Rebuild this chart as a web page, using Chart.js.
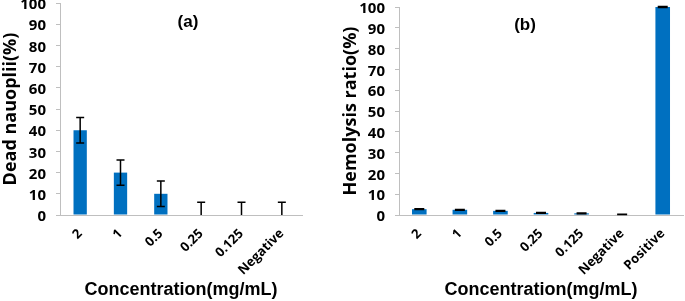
<!DOCTYPE html>
<html>
<head>
<meta charset="utf-8">
<script src="https://cdn.jsdelivr.net/npm/chart.js@4.4.0/dist/chart.umd.min.js"></script>
<style>
  html, body { margin: 0; padding: 0; background: #fff; }
  #wrap { position: relative; width: 685px; height: 301px; overflow: hidden; }
  .box { position: absolute; top: 0; height: 301px; }
  #boxA { left: 0; width: 340px; }
  #boxB { left: 340px; width: 345px; }
</style>
</head>
<body>
<div id="wrap">
  <div class="box" id="boxA"><canvas id="chartA"></canvas></div>
  <div class="box" id="boxB"><canvas id="chartB"></canvas></div>
</div>
<script>
// ---- Data ----
const categoriesA = ["2", "1", "0.5", "0.25", "0.125", "Negative"];
const valuesA = [40, 20, 10, 0, 0, 0];
const errorsA = [6, 6, 6, 6, 6, 6];

const categoriesB = ["2", "1", "0.5", "0.25", "0.125", "Negative", "Positive"];
const valuesB = [2.8, 2.5, 2.0, 1.0, 0.8, 0.3, 100];
const errorsB = [0.2, 0.2, 0.2, 0.15, 0.15, 0.1, 0.2];

const yTicks = [0, 10, 20, 30, 40, 50, 60, 70, 80, 90, 100];

const panelTitleA = "(a)";
const panelTitleB = "(b)";
const xTitle = "Concentration(mg/mL)";
const yTitleA = "Dead nauoplii(%)";
const yTitleB = "Hemolysis ratio(%)";

const BLUE = "#0070C0";
const AXIS = "#BFBFBF";
const TXT = "#000000";

const errorBarPlugin = {
  id: "errorBars",
  afterDatasetsDraw(chart, args, opts) {
    const ctx = chart.ctx;
    const meta = chart.getDatasetMeta(0);
    const ys = chart.scales.y;
    const vals = chart.data.datasets[0].data;
    const errs = opts.errors;
    ctx.save();
    ctx.strokeStyle = opts.color || "#000";
    ctx.lineWidth = opts.lineWidth || 1.5;
    meta.data.forEach((el, i) => {
      const v = vals[i], e = errs[i];
      const x = el.x;
      const yTop = ys.getPixelForValue(v + e);
      const lowVal = Math.max(0, v - e);
      const yBot = ys.getPixelForValue(lowVal);
      const hw = opts.capHalf;
      ctx.beginPath();
      ctx.moveTo(x, yTop); ctx.lineTo(x, yBot);
      ctx.moveTo(x - hw, yTop); ctx.lineTo(x + hw, yTop);
      if (v - e > 0) {
        ctx.moveTo(x - hw, yBot); ctx.lineTo(x + hw, yBot);
      }
      ctx.stroke();
    });
    ctx.restore();
  }
};

const panelTitlePlugin = {
  id: "panelTitle",
  afterDraw(chart, args, opts) {
    const ctx = chart.ctx;
    ctx.save();
    ctx.font = "bold 17px 'Liberation Sans', Arial, sans-serif";
    ctx.fillStyle = TXT;
    ctx.textAlign = "center";
    ctx.textBaseline = "middle";
    ctx.fillText(opts.text, opts.x, opts.y);
    ctx.restore();
  }
};

function makeChart(id, cats, vals, errs, yTitle, title, cfg) {
  return new Chart(document.getElementById(id), {
    type: "bar",
    data: {
      labels: cats,
      datasets: [{
        data: vals,
        backgroundColor: cfg.colors,
        borderWidth: 0,
        barPercentage: 1.0,
        categoryPercentage: cfg.catPct
      }]
    },
    plugins: [errorBarPlugin, panelTitlePlugin],
    options: {
      responsive: true,
      maintainAspectRatio: false,
      animation: false,
      layout: { padding: { left: 0, right: cfg.padRight, top: cfg.padTop, bottom: 0 } },
      plugins: {
        legend: { display: false },
        tooltip: { enabled: false },
        errorBars: { errors: errs, capHalf: cfg.capHalf, lineWidth: 1.5, color: "#000" },
        panelTitle: { text: title, x: cfg.titleX, y: cfg.titleY }
      },
      scales: {
        x: {
          grid: { display: false, drawTicks: false },
          border: { display: true, color: AXIS, width: 1 },
          ticks: {
            minRotation: 45, maxRotation: 45, autoSkip: false, padding: 11,
            color: TXT,
            font: { family: "'Open Sans', 'Liberation Sans', sans-serif", size: 13, weight: "bold" }
          },
          title: {
            display: true, text: xTitle, color: TXT,
            font: { family: "'Liberation Sans', Arial, sans-serif", size: 18, weight: "bold" },
            padding: { top: 0, bottom: 0 }
          },
          afterFit(s) { s.height = 86; s.paddingLeft = 0; s.paddingRight = 0; s.paddingTop = 0; s.paddingBottom = 0; }
        },
        y: {
          min: 0, max: 100,
          afterBuildTicks(s) { s.ticks = yTicks.map(v => ({ value: v })); },
          grid: { display: true, drawOnChartArea: false, drawTicks: true, tickLength: 4, color: AXIS },
          border: { display: true, color: AXIS, width: 1 },
          ticks: {
            autoSkip: false, padding: 10, color: TXT, labelOffset: 2,
            font: { family: "'Open Sans', 'Liberation Sans', sans-serif", size: 15, weight: "bold" }
          },
          title: {
            display: true, text: yTitle, color: TXT,
            font: { family: "'Open Sans', 'Liberation Sans', sans-serif", size: 18, weight: "bold" },
            padding: { top: 0, bottom: 0 }
          },
          afterFit(s) { s.width = cfg.yWidth; s.paddingTop = 0; s.paddingBottom = 0; }
        }
      }
    }
  });
}

makeChart("chartA", categoriesA, valuesA, errorsA, yTitleA, panelTitleA, {
  colors: BLUE, catPct: 0.33, padRight: 38, padTop: 3, yWidth: 60, capHalf: 4,
  titleX: 188, titleY: 22
});
makeChart("chartB", categoriesB, valuesB, errorsB, yTitleB, panelTitleB, {
  colors: [BLUE, BLUE, BLUE, BLUE, BLUE, "#A6A6A6", BLUE], catPct: 0.36, padRight: 2, padTop: 7, yWidth: 59, capHalf: 5,
  titleX: 185, titleY: 25
});
</script>
</body>
</html>
